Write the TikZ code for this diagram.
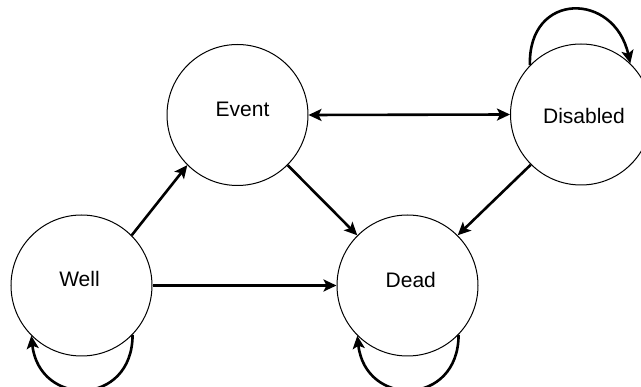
\documentclass[tikz,border=0pt]{standalone}
\usepackage{fontspec}
\setmainfont{Liberation Sans}
\usetikzlibrary{arrows.meta}
\tikzset{
  statecirc/.style={draw=black, line width=1pt, circle, minimum size=141pt, inner sep=0pt},
  statelabel/.style={inner sep=0pt, font=\fontsize{21}{24}\selectfont},
  trans/.style={line width=2.6pt, -{Stealth[length=13pt,width=12pt,inset=3pt]}},
  btrans/.style={line width=2.6pt, {Stealth[length=13pt,width=12pt,inset=3pt]}-{Stealth[length=13pt,width=12pt,inset=3pt]}}
}
\begin{document}
\begin{tikzpicture}[x=1pt,y=-1pt]
\useasboundingbox (0,0) rectangle (641,387);
\clip (0,0) rectangle (641,387);
\node[statecirc] (well) at (81.5,285.5) {};
\node[statecirc] (event) at (237.5,115) {};
\node[statecirc] (dead) at (407.5,285.5) {};
\node[statecirc] (disabled) at (581,114.5) {};
\node[statelabel] (welltxt) at (79.5,278.7) {Well};
\node[statelabel] (eventtxt) at (242.5,109.5) {Event};
\node[statelabel] (deadtxt) at (410.8,279.5) {Dead};
\node[statelabel] (disabledtxt) at (584,115.5) {Disabled};
\draw[trans] (well.45) -- (event.225);
\draw[trans] (well.east) -- (dead.west);
\draw[trans] (event.-45) -- (dead.135);
\draw[trans] (disabled.225) -- (dead.45);
\draw[btrans] (event.0) -- (disabled.180);
\draw[trans] (well.-44) .. controls +(0,72) and +(8,72) .. (well.-135);
\draw[trans] (dead.-44) .. controls +(0,72) and +(8,72) .. (dead.-135);
\draw[trans] (disabled.136) .. controls +(-2,-74) and +(-16,-72) .. (disabled.46);
\end{tikzpicture}
\end{document}
